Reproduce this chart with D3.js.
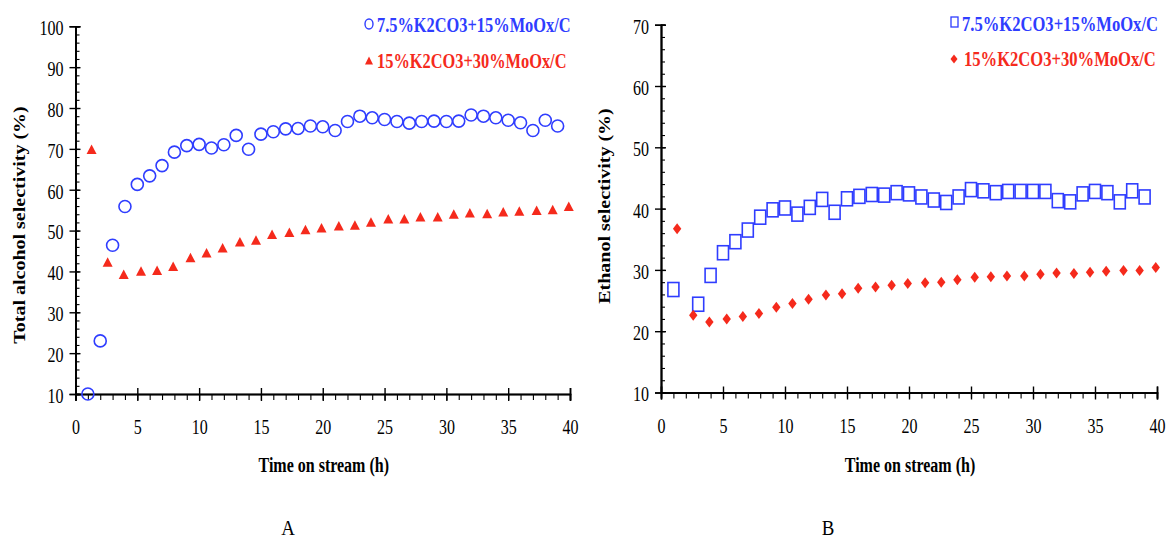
<!DOCTYPE html>
<html><head><meta charset="utf-8">
<script src="https://cdn.jsdelivr.net/npm/d3@7"></script>
<style>body{margin:0;background:#fff}svg{display:block}</style>
</head><body>
<svg id="c" width="1167" height="540"></svg>
<script>
// ---------- data ----------
const legendA = ["7.5%K2CO3+15%MoOx/C", "15%K2CO3+30%MoOx/C"];
const legendB = ["7.5%K2CO3+15%MoOx/C", "15%K2CO3+30%MoOx/C"];
const yTitleA = "Total alcohol selectivity (%)";
const yTitleB = "Ethanol selectivity (%)";
const xTitle = "Time on stream (h)";
const panelLabels = ["A", "B"];

const xTicks = [0, 5, 10, 15, 20, 25, 30, 35, 40];
const yTicksA = [10, 20, 30, 40, 50, 60, 70, 80, 90, 100];
const yTicksB = [10, 20, 30, 40, 50, 60, 70];

// Panel A, blue circles (hours, %)
const hoursBlueA = [1,2,3,4,5,6,7,8,9,10,11,12,13,14,15,16,17,18,19,20,21,22,23,24,25,26,27,28,29,30,31,32,33,34,35,36,37,38,39];
const blueA = [10.0,23.0,46.4,55.9,61.3,63.4,65.9,69.2,70.8,71.1,70.2,71.0,73.3,69.9,73.6,74.2,74.9,75.0,75.6,75.4,74.5,76.7,78.0,77.6,77.2,76.7,76.3,76.7,76.8,76.7,76.8,78.3,78.0,77.6,77.0,76.4,74.5,77.0,75.6];
// Panel A, red triangles
const hoursRed = [1.3,2.6,3.9,5.3,6.6,7.9,9.3,10.6,11.9,13.3,14.6,15.9,17.3,18.6,19.9,21.3,22.6,23.9,25.3,26.6,27.9,29.3,30.6,31.9,33.3,34.6,35.9,37.3,38.6,39.9];
const redA = [69.7,42.1,39.1,39.9,40.1,41.1,43.2,44.4,45.6,47.1,47.5,48.9,49.4,50.1,50.5,51.0,51.2,51.9,52.7,52.7,53.2,53.2,53.9,54.2,54.0,54.4,54.6,54.8,55.0,55.8];

// Panel B, blue squares
const hoursBlueB = [1,3,4,5,6,7,8,9,10,11,12,13,14,15,16,17,18,19,20,21,22,23,24,25,26,27,28,29,30,31,32,33,34,35,36,37,38,39];
const blueB = [26.8,24.4,29.1,32.8,34.6,36.5,38.6,39.8,40.1,39.1,40.2,41.5,39.4,41.6,42.0,42.3,42.2,42.6,42.4,41.9,41.4,41.0,41.9,43.1,42.9,42.6,42.8,42.8,42.8,42.8,41.3,41.1,42.4,42.8,42.6,41.1,42.9,41.9];
// Panel B, red diamonds
const redB = [36.7,22.6,21.5,22.0,22.4,22.9,23.9,24.5,25.2,25.9,26.1,27.0,27.2,27.5,27.8,27.9,28.0,28.4,28.8,28.9,29.0,29.0,29.3,29.5,29.4,29.6,29.8,29.9,29.9,30.4];

// ---------- drawing ----------
const BLUE = "#2f3dff", RED = "#f52a1c";
const FONT = "'Liberation Serif','Times New Roman',serif";
const SX = 0.8; // horizontal compression of the original figure's text
const svg = d3.select("#c");

function txt(g, s, x, y, opt) {
  opt = opt || {};
  const sx = opt.sx || SX;
  const t = g.append("text").text(s)
    .attr("font-family", FONT)
    .attr("font-size", opt.size || 20)
    .attr("font-weight", opt.bold ? "bold" : "normal")
    .attr("fill", opt.fill || "#000")
    .attr("text-anchor", opt.anchor || "start");
  if (opt.rotate) t.attr("transform", `translate(${x},${y}) rotate(-90) scale(1,${sx})`);
  else t.attr("transform", `translate(${x},${y}) scale(${sx},1)`);
  return t;
}

function panel(cfg) {
  const x = d3.scaleLinear().domain([0, 40]).range(cfg.xr);
  const y = d3.scaleLinear().domain(cfg.yd).range(cfg.yr);
  const g = svg.append("g");
  const y0 = cfg.yr[0], x0 = cfg.xr[0];

  const styleAxis = sel => {
    sel.selectAll("path.domain").attr("stroke", "#000").attr("stroke-width", 1.6);
    sel.selectAll(".tick line").attr("stroke", "#000").attr("stroke-width", 1.4);
  };

  // x minor ticks (outward)
  g.append("g").attr("transform", `translate(0,${y0})`)
    .call(d3.axisBottom(x).tickValues(d3.range(0, 41, 1)).tickSize(6).tickFormat(""))
    .call(styleAxis).call(s => s.selectAll(".tick line").attr("stroke-width", 1.1));
  // x major ticks crossing
  g.append("g").attr("transform", `translate(0,${y0})`)
    .call(d3.axisTop(x).tickValues(xTicks).tickSize(6).tickFormat(""))
    .call(styleAxis);
  const xa = g.append("g").attr("transform", `translate(0,${y0})`)
    .call(d3.axisBottom(x).tickValues(xTicks).tickSize(7).tickFormat(d3.format("d")))
    .call(styleAxis);
  xa.selectAll(".tick text").attr("font-family", FONT).attr("font-size", 20)
    .attr("fill", "#000").attr("y", null).attr("dy", null)
    .attr("transform", `translate(0,40) scale(${SX},1)`);

  // y minor ticks (inward)
  const yMinor = d3.range(cfg.yd[0], cfg.yd[1] + 0.1, 2);
  g.append("g").attr("transform", `translate(${x0},0)`)
    .call(d3.axisRight(y).tickValues(yMinor).tickSize(4).tickFormat(""))
    .call(styleAxis).call(s => s.selectAll(".tick line").attr("stroke-width", 1.1));
  g.append("g").attr("transform", `translate(${x0},0)`)
    .call(d3.axisRight(y).tickValues(cfg.yTicks).tickSize(5).tickFormat(""))
    .call(styleAxis);
  const ya = g.append("g").attr("transform", `translate(${x0},0)`)
    .call(d3.axisLeft(y).tickValues(cfg.yTicks).tickSize(6).tickFormat(d3.format("d")))
    .call(styleAxis);
  ya.selectAll(".tick text").attr("font-family", FONT).attr("font-size", 20)
    .attr("fill", "#000").attr("x", null).attr("dy", "0.42em")
    .attr("transform", `translate(-12,0) scale(${SX},1)`);

  // titles
  txt(g, cfg.yTitle, cfg.yTitleX, d3.mean(cfg.yTitleSpan), {bold: true, anchor: "middle", rotate: true});
  txt(g, xTitle, (cfg.xr[0] + cfg.xr[1]) / 2 + 1, 472, {bold: true, anchor: "middle"});
  txt(g, cfg.label, cfg.labelX, 535, {anchor: "middle", size: 21, sx: 0.9});

  // series
  cfg.draw(g, x, y);

  // legend
  cfg.legend(g);
}

// Panel A
panel({
  xr: [75.5, 570], yd: [10, 100], yr: [394, 26.3], yTicks: yTicksA,
  yTitle: yTitleA, yTitleX: 25, yTitleSpan: [95, 355], label: panelLabels[0], labelX: 288,
  draw(g, x, y) {
    g.append("g").selectAll("circle").data(hoursBlueA.map((h, i) => [h, blueA[i]])).join("circle")
      .attr("cx", d => x(d[0])).attr("cy", d => y(d[1])).attr("r", 6)
      .attr("fill", "none").attr("stroke", BLUE).attr("stroke-width", 1.6);
    g.append("g").selectAll("path").data(hoursRed.map((h, i) => [h, redA[i]])).join("path")
      .attr("d", "M0,-5.5L5,4L-5,4Z")
      .attr("transform", d => `translate(${x(d[0])},${y(d[1])})`)
      .attr("fill", RED);
  },
  legend(g) {
    g.append("ellipse").attr("cx", 369).attr("cy", 24).attr("rx", 4).attr("ry", 5)
      .attr("fill", "none").attr("stroke", BLUE).attr("stroke-width", 1.4);
    txt(g, legendA[0], 377, 32, {bold: true, fill: BLUE, sx: 0.82});
    g.append("path").attr("d", "M0,-4.5L4,3.5L-4,3.5Z")
      .attr("transform", "translate(369,61)").attr("fill", RED);
    txt(g, legendA[1], 377, 68, {bold: true, fill: RED, sx: 0.82});
  }
});

// Panel B
panel({
  xr: [661, 1157], yd: [10, 70], yr: [392.5, 24.7], yTicks: yTicksB,
  yTitle: yTitleB, yTitleX: 610, yTitleSpan: [100, 312], label: panelLabels[1], labelX: 828,
  draw(g, x, y) {
    g.append("g").selectAll("rect").data(hoursBlueB.map((h, i) => [h, blueB[i]])).join("rect")
      .attr("x", d => x(d[0]) - 5.5).attr("y", d => y(d[1]) - 7).attr("width", 11).attr("height", 14)
      .attr("fill", "none").attr("stroke", BLUE).attr("stroke-width", 1.6);
    g.append("g").selectAll("path").data(hoursRed.map((h, i) => [h, redB[i]])).join("path")
      .attr("d", "M0,-5.5L4.2,0L0,5.5L-4.2,0Z")
      .attr("transform", d => `translate(${x(d[0])},${y(d[1])})`)
      .attr("fill", RED);
  },
  legend(g) {
    g.append("rect").attr("x", 951).attr("y", 17).attr("width", 7).attr("height", 10)
      .attr("fill", "none").attr("stroke", BLUE).attr("stroke-width", 1.3);
    txt(g, legendB[0], 962, 31, {bold: true, fill: BLUE, sx: 0.83});
    g.append("path").attr("d", "M0,-4.5L3.5,0L0,4.5L-3.5,0Z")
      .attr("transform", "translate(954,59)").attr("fill", RED);
    txt(g, legendB[1], 964, 66, {bold: true, fill: RED, sx: 0.83});
  }
});
</script>
</body></html>
